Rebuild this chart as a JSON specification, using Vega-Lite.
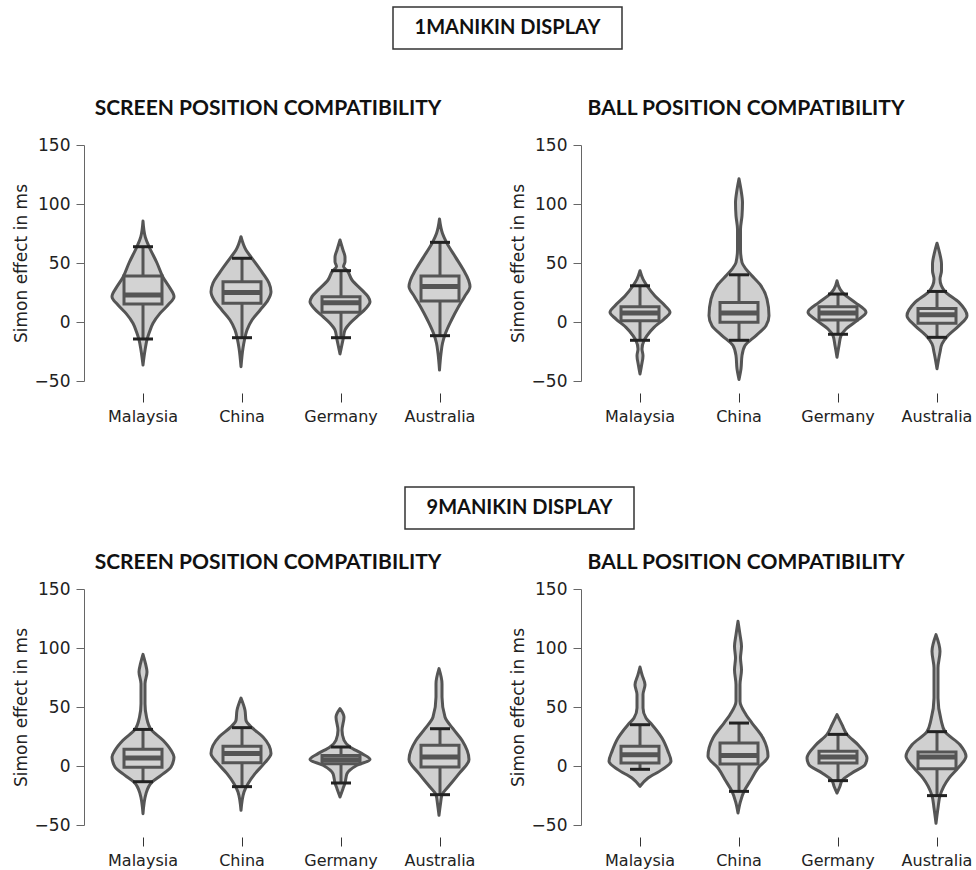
{
  "$schema": "https://vega.github.io/schema/vega-lite/v6.json",
  "padding": {"left": 12, "top": 6, "right": 0, "bottom": 0},
  "background": "white",
  "datasets": {
    "vals": [
      {"p":"1S","c":"Malaysia","v":-36.4,"d":0},{"p":"1S","c":"Malaysia","v":-24,"d":2},{"p":"1S","c":"Malaysia","v":-15,"d":4},{"p":"1S","c":"Malaysia","v":-9.6,"d":6},{"p":"1S","c":"Malaysia","v":-1,"d":10},{"p":"1S","c":"Malaysia","v":7.3,"d":17},{"p":"1S","c":"Malaysia","v":14.4,"d":25},{"p":"1S","c":"Malaysia","v":21.5,"d":31},{"p":"1S","c":"Malaysia","v":30,"d":26},{"p":"1S","c":"Malaysia","v":38,"d":20},{"p":"1S","c":"Malaysia","v":50,"d":14},{"p":"1S","c":"Malaysia","v":64,"d":6},{"p":"1S","c":"Malaysia","v":72,"d":2.3},{"p":"1S","c":"Malaysia","v":85.6,"d":0},
      {"p":"1S","c":"China","v":-37.9,"d":0},{"p":"1S","c":"China","v":-22,"d":2},{"p":"1S","c":"China","v":-15,"d":3.5},{"p":"1S","c":"China","v":-6.8,"d":6},{"p":"1S","c":"China","v":1.7,"d":11},{"p":"1S","c":"China","v":10,"d":19},{"p":"1S","c":"China","v":18.6,"d":27},{"p":"1S","c":"China","v":25.7,"d":30},{"p":"1S","c":"China","v":33,"d":28},{"p":"1S","c":"China","v":41,"d":22},{"p":"1S","c":"China","v":54,"d":11},{"p":"1S","c":"China","v":61,"d":5},{"p":"1S","c":"China","v":72.3,"d":0},
      {"p":"1S","c":"Germany","v":-27,"d":0},{"p":"1S","c":"Germany","v":-15,"d":3},{"p":"1S","c":"Germany","v":-6.8,"d":5},{"p":"1S","c":"Germany","v":-1,"d":10},{"p":"1S","c":"Germany","v":4.5,"d":17},{"p":"1S","c":"Germany","v":11.6,"d":26},{"p":"1S","c":"Germany","v":17.2,"d":30},{"p":"1S","c":"Germany","v":21.5,"d":28},{"p":"1S","c":"Germany","v":27,"d":22},{"p":"1S","c":"Germany","v":35.6,"d":12},{"p":"1S","c":"Germany","v":43.2,"d":7.5},{"p":"1S","c":"Germany","v":47,"d":3.5},{"p":"1S","c":"Germany","v":51,"d":5},{"p":"1S","c":"Germany","v":55,"d":5},{"p":"1S","c":"Germany","v":61,"d":3},{"p":"1S","c":"Germany","v":69.5,"d":0},
      {"p":"1S","c":"Australia","v":-40.7,"d":0},{"p":"1S","c":"Australia","v":-26.6,"d":1.5},{"p":"1S","c":"Australia","v":-18,"d":3},{"p":"1S","c":"Australia","v":-9.6,"d":6},{"p":"1S","c":"Australia","v":1.7,"d":12},{"p":"1S","c":"Australia","v":13,"d":19},{"p":"1S","c":"Australia","v":21.5,"d":25},{"p":"1S","c":"Australia","v":30,"d":30.5},{"p":"1S","c":"Australia","v":35.6,"d":29},{"p":"1S","c":"Australia","v":44,"d":24},{"p":"1S","c":"Australia","v":55,"d":16},{"p":"1S","c":"Australia","v":67.5,"d":7},{"p":"1S","c":"Australia","v":75,"d":3},{"p":"1S","c":"Australia","v":87.3,"d":0},

      {"p":"1B","c":"Malaysia","v":-44,"d":0},{"p":"1B","c":"Malaysia","v":-37,"d":1.5},{"p":"1B","c":"Malaysia","v":-28.5,"d":3},{"p":"1B","c":"Malaysia","v":-22.8,"d":2},{"p":"1B","c":"Malaysia","v":-15.8,"d":4},{"p":"1B","c":"Malaysia","v":-11.5,"d":7},{"p":"1B","c":"Malaysia","v":-4.5,"d":14},{"p":"1B","c":"Malaysia","v":2.5,"d":24},{"p":"1B","c":"Malaysia","v":8.2,"d":30},{"p":"1B","c":"Malaysia","v":13.8,"d":25},{"p":"1B","c":"Malaysia","v":22,"d":15},{"p":"1B","c":"Malaysia","v":30.7,"d":7},{"p":"1B","c":"Malaysia","v":36.3,"d":3},{"p":"1B","c":"Malaysia","v":43.4,"d":0},
      {"p":"1B","c":"China","v":-48.7,"d":0},{"p":"1B","c":"China","v":-39.7,"d":2},{"p":"1B","c":"China","v":-28.5,"d":3},{"p":"1B","c":"China","v":-20,"d":6},{"p":"1B","c":"China","v":-11.5,"d":17},{"p":"1B","c":"China","v":-3.1,"d":27},{"p":"1B","c":"China","v":5.4,"d":30},{"p":"1B","c":"China","v":19.4,"d":28},{"p":"1B","c":"China","v":30.7,"d":22},{"p":"1B","c":"China","v":40,"d":12},{"p":"1B","c":"China","v":44.8,"d":7},{"p":"1B","c":"China","v":50.4,"d":3},{"p":"1B","c":"China","v":61.7,"d":1.5},{"p":"1B","c":"China","v":78.6,"d":1.5},{"p":"1B","c":"China","v":90,"d":3},{"p":"1B","c":"China","v":101,"d":3.5},{"p":"1B","c":"China","v":112,"d":2},{"p":"1B","c":"China","v":121.4,"d":0},
      {"p":"1B","c":"Germany","v":-29.9,"d":0},{"p":"1B","c":"Germany","v":-20,"d":2},{"p":"1B","c":"Germany","v":-11.5,"d":4},{"p":"1B","c":"Germany","v":-5.9,"d":9},{"p":"1B","c":"Germany","v":1.1,"d":20},{"p":"1B","c":"Germany","v":8.2,"d":29},{"p":"1B","c":"Germany","v":16.6,"d":18},{"p":"1B","c":"Germany","v":23.7,"d":7},{"p":"1B","c":"Germany","v":27.9,"d":3},{"p":"1B","c":"Germany","v":34.9,"d":0},
      {"p":"1B","c":"Australia","v":-39.7,"d":0},{"p":"1B","c":"Australia","v":-25.6,"d":3},{"p":"1B","c":"Australia","v":-18.6,"d":5},{"p":"1B","c":"Australia","v":-11.5,"d":11},{"p":"1B","c":"Australia","v":-3.1,"d":22},{"p":"1B","c":"Australia","v":5.4,"d":30},{"p":"1B","c":"Australia","v":16.6,"d":22},{"p":"1B","c":"Australia","v":25.9,"d":8},{"p":"1B","c":"Australia","v":36.3,"d":3},{"p":"1B","c":"Australia","v":43.4,"d":4.5},{"p":"1B","c":"Australia","v":49,"d":4.5},{"p":"1B","c":"Australia","v":58.9,"d":2.5},{"p":"1B","c":"Australia","v":66.8,"d":0},

      {"p":"9S","c":"Malaysia","v":-40.4,"d":0},{"p":"9S","c":"Malaysia","v":-23.4,"d":3},{"p":"9S","c":"Malaysia","v":-13.6,"d":9},{"p":"9S","c":"Malaysia","v":-7.9,"d":18},{"p":"9S","c":"Malaysia","v":-0.8,"d":28},{"p":"9S","c":"Malaysia","v":7.6,"d":31},{"p":"9S","c":"Malaysia","v":13.3,"d":28},{"p":"9S","c":"Malaysia","v":21.8,"d":20},{"p":"9S","c":"Malaysia","v":31,"d":8},{"p":"9S","c":"Malaysia","v":41.5,"d":3.5},{"p":"9S","c":"Malaysia","v":52.8,"d":2},{"p":"9S","c":"Malaysia","v":69.8,"d":2},{"p":"9S","c":"Malaysia","v":79.7,"d":4},{"p":"9S","c":"Malaysia","v":86.7,"d":2.5},{"p":"9S","c":"Malaysia","v":94.6,"d":0},
      {"p":"9S","c":"China","v":-37.6,"d":0},{"p":"9S","c":"China","v":-22,"d":3},{"p":"9S","c":"China","v":-15,"d":7},{"p":"9S","c":"China","v":-6.5,"d":14},{"p":"9S","c":"China","v":2,"d":23},{"p":"9S","c":"China","v":10.5,"d":30},{"p":"9S","c":"China","v":24.6,"d":22},{"p":"9S","c":"China","v":32.5,"d":11},{"p":"9S","c":"China","v":38.7,"d":5},{"p":"9S","c":"China","v":47.2,"d":4},{"p":"9S","c":"China","v":57.6,"d":0},
      {"p":"9S","c":"Germany","v":-26.3,"d":0},{"p":"9S","c":"Germany","v":-19.2,"d":3},{"p":"9S","c":"Germany","v":-14.4,"d":5},{"p":"9S","c":"Germany","v":-6.5,"d":7},{"p":"9S","c":"Germany","v":0.6,"d":17},{"p":"9S","c":"Germany","v":5.6,"d":30},{"p":"9S","c":"Germany","v":10.5,"d":22},{"p":"9S","c":"Germany","v":16.1,"d":10},{"p":"9S","c":"Germany","v":21.8,"d":4},{"p":"9S","c":"Germany","v":30.2,"d":2},{"p":"9S","c":"Germany","v":41.5,"d":4},{"p":"9S","c":"Germany","v":48.6,"d":0},
      {"p":"9S","c":"Australia","v":-41.8,"d":0},{"p":"9S","c":"Australia","v":-32,"d":1.5},{"p":"9S","c":"Australia","v":-24.3,"d":3},{"p":"9S","c":"Australia","v":-17.8,"d":9},{"p":"9S","c":"Australia","v":-6.5,"d":20},{"p":"9S","c":"Australia","v":5.6,"d":30},{"p":"9S","c":"Australia","v":21.8,"d":23},{"p":"9S","c":"Australia","v":31.6,"d":14},{"p":"9S","c":"Australia","v":41.5,"d":6},{"p":"9S","c":"Australia","v":58.5,"d":3},{"p":"9S","c":"Australia","v":69.8,"d":3},{"p":"9S","c":"Australia","v":82.5,"d":0},

      {"p":"9B","c":"Malaysia","v":-17.2,"d":0},{"p":"9B","c":"Malaysia","v":-10.2,"d":8},{"p":"9B","c":"Malaysia","v":-3.1,"d":22},{"p":"9B","c":"Malaysia","v":4,"d":31},{"p":"9B","c":"Malaysia","v":12.4,"d":28},{"p":"9B","c":"Malaysia","v":23.7,"d":22},{"p":"9B","c":"Malaysia","v":35,"d":12},{"p":"9B","c":"Malaysia","v":40.7,"d":6},{"p":"9B","c":"Malaysia","v":49.2,"d":3},{"p":"9B","c":"Malaysia","v":60.5,"d":3},{"p":"9B","c":"Malaysia","v":68.9,"d":5},{"p":"9B","c":"Malaysia","v":77.4,"d":2},{"p":"9B","c":"Malaysia","v":83.9,"d":0},
      {"p":"9B","c":"China","v":-39.8,"d":0},{"p":"9B","c":"China","v":-30,"d":2.5},{"p":"9B","c":"China","v":-21.5,"d":6},{"p":"9B","c":"China","v":-13,"d":12},{"p":"9B","c":"China","v":-1.7,"d":20},{"p":"9B","c":"China","v":8.2,"d":30},{"p":"9B","c":"China","v":23.7,"d":25},{"p":"9B","c":"China","v":36.4,"d":14},{"p":"9B","c":"China","v":43.5,"d":8},{"p":"9B","c":"China","v":54.8,"d":2},{"p":"9B","c":"China","v":68.9,"d":2},{"p":"9B","c":"China","v":81.6,"d":3.5},{"p":"9B","c":"China","v":91.5,"d":2.5},{"p":"9B","c":"China","v":101.4,"d":3.5},{"p":"9B","c":"China","v":111.3,"d":2},{"p":"9B","c":"China","v":122.6,"d":0},
      {"p":"9B","c":"Germany","v":-22.9,"d":0},{"p":"9B","c":"Germany","v":-17.2,"d":3},{"p":"9B","c":"Germany","v":-12.4,"d":5},{"p":"9B","c":"Germany","v":-5.9,"d":15},{"p":"9B","c":"Germany","v":1.1,"d":28},{"p":"9B","c":"Germany","v":6.8,"d":30},{"p":"9B","c":"Germany","v":18,"d":21},{"p":"9B","c":"Germany","v":26.8,"d":10},{"p":"9B","c":"Germany","v":35,"d":5},{"p":"9B","c":"Germany","v":43.5,"d":0},
      {"p":"9B","c":"Australia","v":-48.5,"d":0},{"p":"9B","c":"Australia","v":-35.6,"d":2},{"p":"9B","c":"Australia","v":-25.1,"d":4},{"p":"9B","c":"Australia","v":-10.2,"d":13},{"p":"9B","c":"Australia","v":-1.7,"d":22},{"p":"9B","c":"Australia","v":8.2,"d":30},{"p":"9B","c":"Australia","v":18,"d":24},{"p":"9B","c":"Australia","v":29.1,"d":9},{"p":"9B","c":"Australia","v":39.3,"d":5},{"p":"9B","c":"Australia","v":57.6,"d":2},{"p":"9B","c":"Australia","v":83,"d":2},{"p":"9B","c":"Australia","v":97.2,"d":4},{"p":"9B","c":"Australia","v":111.3,"d":0},

      {"p":"1S","c":"Malaysia","lo":-14.4,"q1":15.3,"md":22.9,"q3":39,"hi":63.8},
      {"p":"1S","c":"China","lo":-13.3,"q1":15.8,"md":25.1,"q3":34.2,"hi":54},
      {"p":"1S","c":"Germany","lo":-13.3,"q1":8.2,"md":16.4,"q3":21.5,"hi":43.5},
      {"p":"1S","c":"Australia","lo":-11.6,"q1":17.8,"md":30,"q3":39,"hi":67.5},
      {"p":"1B","c":"Malaysia","lo":-15.5,"q1":1.1,"md":7.6,"q3":13,"hi":30.7},
      {"p":"1B","c":"China","lo":-15.5,"q1":-0.3,"md":7.6,"q3":16.6,"hi":40},
      {"p":"1B","c":"Germany","lo":-10.4,"q1":1.7,"md":7.6,"q3":13,"hi":23.7},
      {"p":"1B","c":"Australia","lo":-13,"q1":-1.1,"md":6.2,"q3":11.5,"hi":25.9},
      {"p":"9S","c":"Malaysia","lo":-13.3,"q1":-1.1,"md":6.8,"q3":14.1,"hi":31},
      {"p":"9S","c":"China","lo":-17.5,"q1":2.8,"md":10.5,"q3":16.7,"hi":32.5},
      {"p":"9S","c":"Germany","lo":-14.4,"q1":2,"md":5.4,"q3":9,"hi":16.1},
      {"p":"9S","c":"Australia","lo":-24.3,"q1":-0.8,"md":7.6,"q3":17.5,"hi":31.6},
      {"p":"9B","c":"Malaysia","lo":-2.8,"q1":2.5,"md":9.6,"q3":16.7,"hi":35},
      {"p":"9B","c":"China","lo":-21.5,"q1":1.7,"md":9,"q3":19.5,"hi":36.4},
      {"p":"9B","c":"Germany","lo":-12.4,"q1":2.5,"md":7.6,"q3":12.4,"hi":26.8},
      {"p":"9B","c":"Australia","lo":-25.1,"q1":-2.3,"md":7.6,"q3":11.9,"hi":29.1}
    ]
  },
  "spacing": 61,
  "vconcat": [
    {
      "spacing": 48,
      "vconcat": [
        {
          "spacing": 0,
          "hconcat": [
            {"width": 289, "height": 42, "data": {"values": []}, "mark": "point"},
            {
              "width": 229, "height": 42,
              "view": {"stroke": "#333", "strokeWidth": 1.5},
              "data": {"values": [{"t": "1MANIKIN DISPLAY"}]},
              "mark": {"type": "text", "font": "Lato", "fontSize": 20, "fontWeight": "bold", "color": "#111"},
              "encoding": {"text": {"field": "t", "type": "nominal"}}
            }
          ]
        },
        {
          "spacing": 29,
          "hconcat": [
            {
              "data": {"name": "vals"},
              "transform": [{"filter": {"field": "p", "equal": "1S"}}],
              "title": {"text": "SCREEN POSITION COMPATIBILITY", "anchor": "middle", "dx": 22, "offset": 17},
              "facet": {"column": {"field": "c", "type": "nominal", "title": null, "sort": ["Malaysia", "China", "Germany", "Australia"], "header": {"labelOrient": "bottom", "labelFont": "DejaVu Sans", "labelFontSize": 16, "labelColor": "#222", "labelPadding": 6}}},
              "spacing": 19,
              "spec": {
                "width": 80, "height": 236,
                "layer": [
                  {
                    "transform": [{"filter": {"field": "d", "valid": true}}],
                    "mark": {"type": "area", "orient": "horizontal", "interpolate": "monotone", "fill": "#d0d0d0", "stroke": "#555", "strokeWidth": 3, "strokeJoin": "round"},
                    "encoding": {
                      "y": {"field": "v", "type": "quantitative", "title": "Simon effect in ms", "scale": {"domain": [-50, 150], "nice": false, "zero": false, "padding": 0}, "axis": {"values": [-50, 0, 50, 100, 150], "offset": 19, "grid": false}},
                      "x": {"field": "d", "type": "quantitative", "stack": "center", "scale": {"domain": [-4.5, 35.5], "nice": false, "zero": false, "padding": 0}, "axis": {"values": [15.5], "labels": false, "domain": false, "grid": false, "ticks": true, "tickSize": 9, "tickColor": "#333", "offset": 12, "title": null}}
                    }
                  },
                  {
                    "transform": [{"filter": {"field": "md", "valid": true}}],
                    "mark": {"type": "rule", "color": "#555", "strokeWidth": 3},
                    "encoding": {"y": {"field": "lo", "type": "quantitative", "title": "Simon effect in ms"}, "y2": {"field": "hi"}, "x": {"datum": 15.5}}
                  },
                  {
                    "transform": [{"filter": {"field": "md", "valid": true}}],
                    "mark": {"type": "bar", "width": 38, "fill": "#d3d3d3", "stroke": "#555", "strokeWidth": 3},
                    "encoding": {"y": {"field": "q1", "type": "quantitative", "title": "Simon effect in ms"}, "y2": {"field": "q3"}, "x": {"datum": 15.5}}
                  },
                  {
                    "transform": [{"filter": {"field": "md", "valid": true}}],
                    "mark": {"type": "rule", "color": "#555", "strokeWidth": 5},
                    "encoding": {"y": {"field": "md", "type": "quantitative", "title": "Simon effect in ms"}, "x": {"datum": 6}, "x2": {"datum": 25}}
                  },
                  {
                    "transform": [{"filter": {"field": "md", "valid": true}}],
                    "mark": {"type": "rule", "color": "#222", "strokeWidth": 3},
                    "encoding": {"y": {"field": "lo", "type": "quantitative", "title": "Simon effect in ms"}, "x": {"datum": 10.5}, "x2": {"datum": 20.5}}
                  },
                  {
                    "transform": [{"filter": {"field": "md", "valid": true}}],
                    "mark": {"type": "rule", "color": "#222", "strokeWidth": 3},
                    "encoding": {"y": {"field": "hi", "type": "quantitative", "title": "Simon effect in ms"}, "x": {"datum": 10.5}, "x2": {"datum": 20.5}}
                  }
                ]
              }
            },
            {
              "data": {"name": "vals"},
              "transform": [{"filter": {"field": "p", "equal": "1B"}}],
              "title": {"text": "BALL POSITION COMPATIBILITY", "anchor": "middle", "dx": 3, "offset": 17},
              "facet": {"column": {"field": "c", "type": "nominal", "title": null, "sort": ["Malaysia", "China", "Germany", "Australia"], "header": {"labelOrient": "bottom", "labelFont": "DejaVu Sans", "labelFontSize": 16, "labelColor": "#222", "labelPadding": 6}}},
              "spacing": 19,
              "spec": {
                "width": 80, "height": 236,
                "layer": [
                  {
                    "transform": [{"filter": {"field": "d", "valid": true}}],
                    "mark": {"type": "area", "orient": "horizontal", "interpolate": "monotone", "fill": "#d0d0d0", "stroke": "#555", "strokeWidth": 3, "strokeJoin": "round"},
                    "encoding": {
                      "y": {"field": "v", "type": "quantitative", "title": "Simon effect in ms", "scale": {"domain": [-50, 150], "nice": false, "zero": false, "padding": 0}, "axis": {"values": [-50, 0, 50, 100, 150], "offset": 19, "grid": false}},
                      "x": {"field": "d", "type": "quantitative", "stack": "center", "scale": {"domain": [-5, 35], "nice": false, "zero": false, "padding": 0}, "axis": {"values": [15], "labels": false, "domain": false, "grid": false, "ticks": true, "tickSize": 9, "tickColor": "#333", "offset": 12, "title": null}}
                    }
                  },
                  {
                    "transform": [{"filter": {"field": "md", "valid": true}}],
                    "mark": {"type": "rule", "color": "#555", "strokeWidth": 3},
                    "encoding": {"y": {"field": "lo", "type": "quantitative", "title": "Simon effect in ms"}, "y2": {"field": "hi"}, "x": {"datum": 15}}
                  },
                  {
                    "transform": [{"filter": {"field": "md", "valid": true}}],
                    "mark": {"type": "bar", "width": 38, "fill": "#d3d3d3", "stroke": "#555", "strokeWidth": 3},
                    "encoding": {"y": {"field": "q1", "type": "quantitative", "title": "Simon effect in ms"}, "y2": {"field": "q3"}, "x": {"datum": 15}}
                  },
                  {
                    "transform": [{"filter": {"field": "md", "valid": true}}],
                    "mark": {"type": "rule", "color": "#555", "strokeWidth": 5},
                    "encoding": {"y": {"field": "md", "type": "quantitative", "title": "Simon effect in ms"}, "x": {"datum": 5.5}, "x2": {"datum": 24.5}}
                  },
                  {
                    "transform": [{"filter": {"field": "md", "valid": true}}],
                    "mark": {"type": "rule", "color": "#222", "strokeWidth": 3},
                    "encoding": {"y": {"field": "lo", "type": "quantitative", "title": "Simon effect in ms"}, "x": {"datum": 10}, "x2": {"datum": 20}}
                  },
                  {
                    "transform": [{"filter": {"field": "md", "valid": true}}],
                    "mark": {"type": "rule", "color": "#222", "strokeWidth": 3},
                    "encoding": {"y": {"field": "hi", "type": "quantitative", "title": "Simon effect in ms"}, "x": {"datum": 10}, "x2": {"datum": 20}}
                  }
                ]
              }
            }
          ]
        }
      ]
    },
    {
      "spacing": 22,
      "vconcat": [
        {
          "spacing": 0,
          "hconcat": [
            {"width": 301, "height": 42, "data": {"values": []}, "mark": "point"},
            {
              "width": 229, "height": 42,
              "view": {"stroke": "#333", "strokeWidth": 1.5},
              "data": {"values": [{"t": "9MANIKIN DISPLAY"}]},
              "mark": {"type": "text", "font": "Lato", "fontSize": 20, "fontWeight": "bold", "color": "#111"},
              "encoding": {"text": {"field": "t", "type": "nominal"}}
            }
          ]
        },
        {
          "spacing": 29,
          "hconcat": [
            {
              "data": {"name": "vals"},
              "transform": [{"filter": {"field": "p", "equal": "9S"}}],
              "title": {"text": "SCREEN POSITION COMPATIBILITY", "anchor": "middle", "dx": 22, "offset": 7},
              "facet": {"column": {"field": "c", "type": "nominal", "title": null, "sort": ["Malaysia", "China", "Germany", "Australia"], "header": {"labelOrient": "bottom", "labelFont": "DejaVu Sans", "labelFontSize": 16, "labelColor": "#222", "labelPadding": 6}}},
              "spacing": 19,
              "spec": {
                "width": 80, "height": 236,
                "layer": [
                  {
                    "transform": [{"filter": {"field": "d", "valid": true}}],
                    "mark": {"type": "area", "orient": "horizontal", "interpolate": "monotone", "fill": "#d0d0d0", "stroke": "#555", "strokeWidth": 3, "strokeJoin": "round"},
                    "encoding": {
                      "y": {"field": "v", "type": "quantitative", "title": "Simon effect in ms", "scale": {"domain": [-50, 150], "nice": false, "zero": false, "padding": 0}, "axis": {"values": [-50, 0, 50, 100, 150], "offset": 19, "grid": false}},
                      "x": {"field": "d", "type": "quantitative", "stack": "center", "scale": {"domain": [-4.5, 35.5], "nice": false, "zero": false, "padding": 0}, "axis": {"values": [15.5], "labels": false, "domain": false, "grid": false, "ticks": true, "tickSize": 9, "tickColor": "#333", "offset": 12, "title": null}}
                    }
                  },
                  {
                    "transform": [{"filter": {"field": "md", "valid": true}}],
                    "mark": {"type": "rule", "color": "#555", "strokeWidth": 3},
                    "encoding": {"y": {"field": "lo", "type": "quantitative", "title": "Simon effect in ms"}, "y2": {"field": "hi"}, "x": {"datum": 15.5}}
                  },
                  {
                    "transform": [{"filter": {"field": "md", "valid": true}}],
                    "mark": {"type": "bar", "width": 38, "fill": "#d3d3d3", "stroke": "#555", "strokeWidth": 3},
                    "encoding": {"y": {"field": "q1", "type": "quantitative", "title": "Simon effect in ms"}, "y2": {"field": "q3"}, "x": {"datum": 15.5}}
                  },
                  {
                    "transform": [{"filter": {"field": "md", "valid": true}}],
                    "mark": {"type": "rule", "color": "#555", "strokeWidth": 5},
                    "encoding": {"y": {"field": "md", "type": "quantitative", "title": "Simon effect in ms"}, "x": {"datum": 6}, "x2": {"datum": 25}}
                  },
                  {
                    "transform": [{"filter": {"field": "md", "valid": true}}],
                    "mark": {"type": "rule", "color": "#222", "strokeWidth": 3},
                    "encoding": {"y": {"field": "lo", "type": "quantitative", "title": "Simon effect in ms"}, "x": {"datum": 10.5}, "x2": {"datum": 20.5}}
                  },
                  {
                    "transform": [{"filter": {"field": "md", "valid": true}}],
                    "mark": {"type": "rule", "color": "#222", "strokeWidth": 3},
                    "encoding": {"y": {"field": "hi", "type": "quantitative", "title": "Simon effect in ms"}, "x": {"datum": 10.5}, "x2": {"datum": 20.5}}
                  }
                ]
              }
            },
            {
              "data": {"name": "vals"},
              "transform": [{"filter": {"field": "p", "equal": "9B"}}],
              "title": {"text": "BALL POSITION COMPATIBILITY", "anchor": "middle", "dx": 3, "offset": 7},
              "facet": {"column": {"field": "c", "type": "nominal", "title": null, "sort": ["Malaysia", "China", "Germany", "Australia"], "header": {"labelOrient": "bottom", "labelFont": "DejaVu Sans", "labelFontSize": 16, "labelColor": "#222", "labelPadding": 6}}},
              "spacing": 19,
              "spec": {
                "width": 80, "height": 236,
                "layer": [
                  {
                    "transform": [{"filter": {"field": "d", "valid": true}}],
                    "mark": {"type": "area", "orient": "horizontal", "interpolate": "monotone", "fill": "#d0d0d0", "stroke": "#555", "strokeWidth": 3, "strokeJoin": "round"},
                    "encoding": {
                      "y": {"field": "v", "type": "quantitative", "title": "Simon effect in ms", "scale": {"domain": [-50, 150], "nice": false, "zero": false, "padding": 0}, "axis": {"values": [-50, 0, 50, 100, 150], "offset": 19, "grid": false}},
                      "x": {"field": "d", "type": "quantitative", "stack": "center", "scale": {"domain": [-4.5, 35.5], "nice": false, "zero": false, "padding": 0}, "axis": {"values": [15.5], "labels": false, "domain": false, "grid": false, "ticks": true, "tickSize": 9, "tickColor": "#333", "offset": 12, "title": null}}
                    }
                  },
                  {
                    "transform": [{"filter": {"field": "md", "valid": true}}],
                    "mark": {"type": "rule", "color": "#555", "strokeWidth": 3},
                    "encoding": {"y": {"field": "lo", "type": "quantitative", "title": "Simon effect in ms"}, "y2": {"field": "hi"}, "x": {"datum": 15.5}}
                  },
                  {
                    "transform": [{"filter": {"field": "md", "valid": true}}],
                    "mark": {"type": "bar", "width": 38, "fill": "#d3d3d3", "stroke": "#555", "strokeWidth": 3},
                    "encoding": {"y": {"field": "q1", "type": "quantitative", "title": "Simon effect in ms"}, "y2": {"field": "q3"}, "x": {"datum": 15.5}}
                  },
                  {
                    "transform": [{"filter": {"field": "md", "valid": true}}],
                    "mark": {"type": "rule", "color": "#555", "strokeWidth": 5},
                    "encoding": {"y": {"field": "md", "type": "quantitative", "title": "Simon effect in ms"}, "x": {"datum": 6}, "x2": {"datum": 25}}
                  },
                  {
                    "transform": [{"filter": {"field": "md", "valid": true}}],
                    "mark": {"type": "rule", "color": "#222", "strokeWidth": 3},
                    "encoding": {"y": {"field": "lo", "type": "quantitative", "title": "Simon effect in ms"}, "x": {"datum": 10.5}, "x2": {"datum": 20.5}}
                  },
                  {
                    "transform": [{"filter": {"field": "md", "valid": true}}],
                    "mark": {"type": "rule", "color": "#222", "strokeWidth": 3},
                    "encoding": {"y": {"field": "hi", "type": "quantitative", "title": "Simon effect in ms"}, "x": {"datum": 10.5}, "x2": {"datum": 20.5}}
                  }
                ]
              }
            }
          ]
        }
      ]
    }
  ],
  "config": {
    "view": {"stroke": null},
    "font": "DejaVu Sans",
    "axis": {"labelFont": "DejaVu Sans", "labelFontSize": 17, "labelColor": "#222", "titleFont": "DejaVu Sans", "titleFontSize": 17, "titleFontWeight": "normal", "titleColor": "#222", "domainColor": "#666", "tickColor": "#666", "tickSize": 8, "labelPadding": 6, "titlePadding": 4},
    "title": {"font": "Lato", "fontSize": 21, "fontWeight": "bold", "color": "#111"}
  }
}
